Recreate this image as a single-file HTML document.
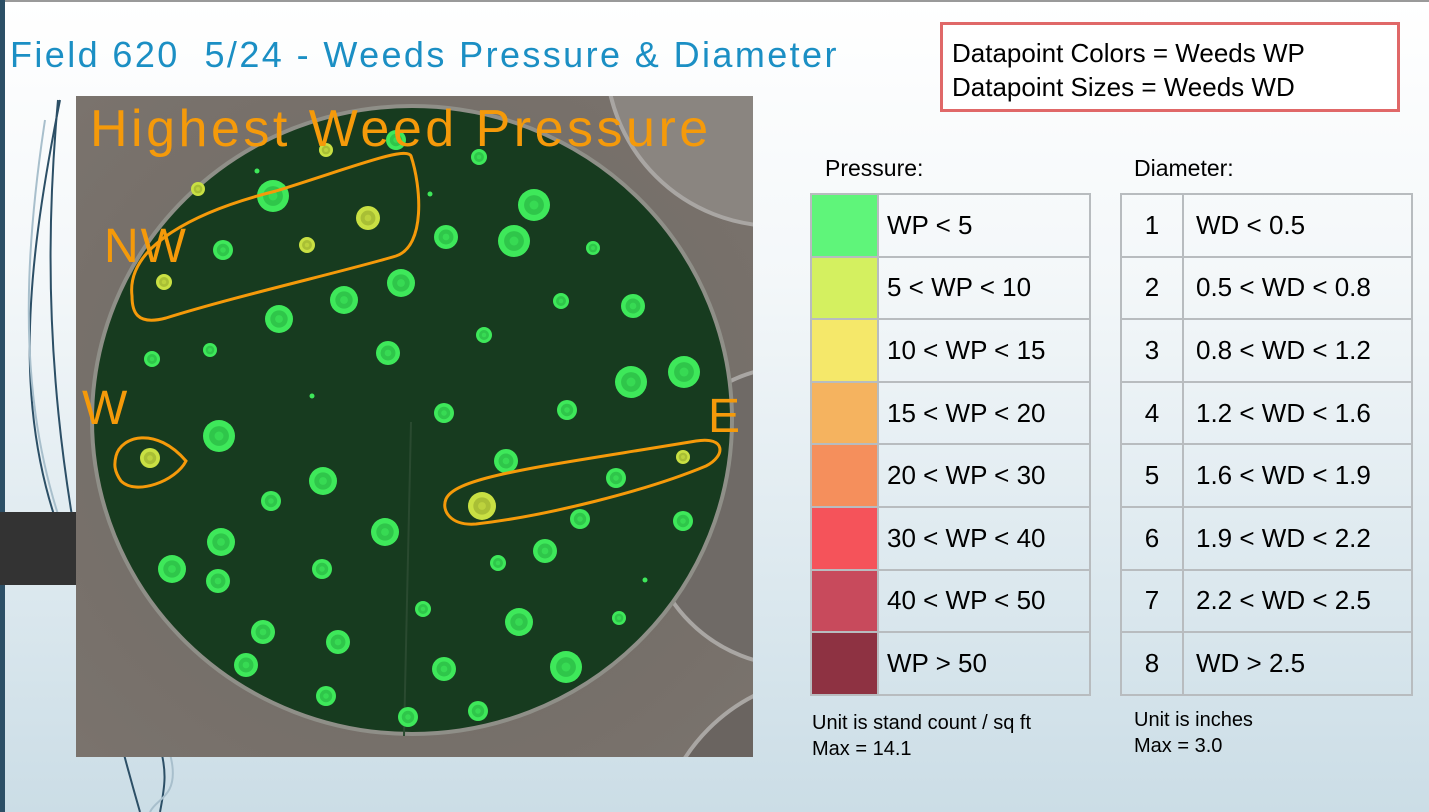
<!DOCTYPE html>
<html><head><meta charset="utf-8"><style>
html,body{margin:0;padding:0}
body{width:1429px;height:812px;overflow:hidden;position:relative;font-family:"Liberation Sans",sans-serif;background:linear-gradient(#ffffff 0%,#f3f7f9 35%,#dde9ef 70%,#cbdde6 100%)}
.abs{position:absolute}
table{border-collapse:collapse;position:absolute;table-layout:fixed}
td{border:2px solid #b8bcbf;font-size:26px;color:#000;padding:0;height:62.6px;box-sizing:border-box}
</style></head><body>
<div class="abs" style="left:0;top:0;width:1429px;height:2px;background:#9a9a9a"></div>
<div class="abs" style="left:0;top:0;width:5px;height:812px;background:#2c4f66"></div>
<svg class="abs" style="left:0;top:0" width="200" height="812">
<path d="M60 100 C 20 300, 10 450, 90 600 S 170 760, 160 812" stroke="#2c4f66" stroke-width="2" fill="none"/>
<path d="M45 120 C 10 350, 30 500, 120 650 S 160 790, 150 812" stroke="#a8bfcc" stroke-width="2" fill="none"/>
<path d="M58 100 C 40 300, 50 500, 140 812" stroke="#2c4f66" stroke-width="2" fill="none"/>
</svg>
<div class="abs" style="left:0;top:512px;width:80px;height:73px;background:#333"></div>
<div class="abs" style="left:10px;top:34px;font-size:36px;color:#1b8fc4;letter-spacing:2.4px;white-space:pre">Field 620  5/24 - Weeds Pressure &amp; Diameter</div>
<div class="abs" style="left:940px;top:22px;width:460px;height:90px;border:3px solid #e06868;box-sizing:border-box;background:#fff;font-size:26px;line-height:34px;padding:11px 0 0 9px">Datapoint Colors = Weeds WP<br>Datapoint Sizes = Weeds WD</div>

<svg class="abs" style="left:76px;top:96px" width="677" height="661" id="map">
<defs><radialGradient id="bg" cx="50%" cy="50%" r="70%"><stop offset="0" stop-color="#6e6862"/><stop offset="1" stop-color="#7a736d"/></radialGradient></defs>
<rect width="677" height="661" fill="url(#bg)"/>
<circle cx="700" cy="-40" r="170" fill="#8a8580" stroke="#a9a6a3" stroke-width="4"/>
<circle cx="720" cy="420" r="150" fill="#6f6a66" stroke="#a9a6a3" stroke-width="4"/>
<circle cx="760" cy="760" r="180" fill="#6a6460" stroke="#a9a6a3" stroke-width="4"/>
<ellipse cx="336" cy="324" rx="320" ry="314" fill="#173b1f" stroke="#8f8f88" stroke-width="4"/>
<line x1="335" y1="326" x2="328" y2="640" stroke="#2a4a30" stroke-width="2"/>
<g id="pts"></g>
<g fill="none" stroke="#f59a0a" stroke-width="3">
<path d="M56 200 C 50 150, 120 115, 200 95 C 280 70, 330 50, 335 60 C 345 90, 350 150, 320 160 C 270 175, 160 200, 90 222 C 60 230, 56 215, 56 200 Z"/>
<path d="M40 360 C 45 340, 80 330, 110 365 C 100 385, 60 400, 45 385 C 38 375, 38 368, 40 360 Z"/>
<path d="M370 403 C 380 380, 470 370, 620 345 C 650 340, 650 360, 630 370 C 570 395, 470 420, 400 428 C 375 430, 365 415, 370 403 Z"/>
</g>
<g fill="#f59a0a" font-family="Liberation Sans,sans-serif">
<text x="14" y="50" font-size="52" letter-spacing="3.5">Highest Weed Pressure</text>
<text x="28" y="166" font-size="48" letter-spacing="2">NW</text>
<text x="6" y="328" font-size="48">W</text>
<text x="632" y="336" font-size="48">E</text>
</g>
</svg>

<div class="abs" style="left:825px;top:155px;font-size:23px">Pressure:</div>
<table style="left:810px;top:193px;width:281px">
<tr><td style="width:67px;background:#5ff57a"></td><td style="padding-left:8px">WP &lt; 5</td></tr>
<tr><td style="background:#d4f060"></td><td style="padding-left:8px">5 &lt; WP &lt; 10</td></tr>
<tr><td style="background:#f5e86a"></td><td style="padding-left:8px">10 &lt; WP &lt; 15</td></tr>
<tr><td style="background:#f5b35f"></td><td style="padding-left:8px">15 &lt; WP &lt; 20</td></tr>
<tr><td style="background:#f58f5c"></td><td style="padding-left:8px">20 &lt; WP &lt; 30</td></tr>
<tr><td style="background:#f5535a"></td><td style="padding-left:8px">30 &lt; WP &lt; 40</td></tr>
<tr><td style="background:#c84a5c"></td><td style="padding-left:8px">40 &lt; WP &lt; 50</td></tr>
<tr><td style="background:#8e3242"></td><td style="padding-left:8px">WP &gt; 50</td></tr>
</table>
<div class="abs" style="left:812px;top:710px;font-size:20px;line-height:26px">Unit is stand count / sq ft<br>Max = 14.1</div>

<div class="abs" style="left:1134px;top:155px;font-size:23px">Diameter:</div>
<table style="left:1120px;top:193px;width:293px">
<tr><td style="width:62px;text-align:center">1</td><td style="padding-left:12px">WD &lt; 0.5</td></tr>
<tr><td style="text-align:center">2</td><td style="padding-left:12px">0.5 &lt; WD &lt; 0.8</td></tr>
<tr><td style="text-align:center">3</td><td style="padding-left:12px">0.8 &lt; WD &lt; 1.2</td></tr>
<tr><td style="text-align:center">4</td><td style="padding-left:12px">1.2 &lt; WD &lt; 1.6</td></tr>
<tr><td style="text-align:center">5</td><td style="padding-left:12px">1.6 &lt; WD &lt; 1.9</td></tr>
<tr><td style="text-align:center">6</td><td style="padding-left:12px">1.9 &lt; WD &lt; 2.2</td></tr>
<tr><td style="text-align:center">7</td><td style="padding-left:12px">2.2 &lt; WD &lt; 2.5</td></tr>
<tr><td style="text-align:center">8</td><td style="padding-left:12px">WD &gt; 2.5</td></tr>
</table>
<div class="abs" style="left:1134px;top:707px;font-size:20px;line-height:26px">Unit is inches<br>Max = 3.0</div>

<script>
// point locations in slide pixel coordinates (map-projected), diameter class 1-8, pressure class 1-2
const ptX = [396,326,479,198,273,257,430,368,534,223,307,446,514,593,164,401,344,279,561,633,484,152,210,388,631,684,312,444,567,219,150,683,506,323,616,271,482,580,683,385,221,545,172,322,498,218,645,423,519,619,263,338,246,444,566,326,408,478];
const ptY = [140,150,157,189,196,171,194,218,205,250,245,237,241,248,282,283,300,319,301,306,335,359,350,353,382,372,396,413,410,436,458,457,461,481,478,501,506,519,521,532,542,551,569,569,563,581,580,609,622,618,632,642,665,669,667,696,717,711];
const ptWD = [4,2,3,2,7,1,1,5,7,4,3,5,7,2,3,6,6,6,3,5,3,3,2,5,7,7,1,4,4,7,4,2,5,6,4,4,6,4,4,6,6,5,6,4,3,5,1,3,6,2,5,5,5,5,7,4,4,4];
const ptWP = [1,2,1,2,1,1,1,2,1,1,2,1,1,1,2,1,1,1,1,1,1,1,1,1,1,1,1,1,1,1,2,2,1,1,1,1,2,1,1,1,1,1,1,1,1,1,1,1,1,1,1,1,1,1,1,1,1,1];
const radiusFor = c => [0,2.5,7,8,10,12,14,16,18][c];
const outerCol = ["", "#3ee85a", "#c9e043"];
const innerCol = ["", "#2fc64a", "#a9bf35"];
const g = document.getElementById('pts');
const NS = "http://www.w3.org/2000/svg";
for (let i = 0; i < ptX.length; i++) {
  const r = radiusFor(ptWD[i]);
  const cx = ptX[i] - 76, cy = ptY[i] - 96;
  const o = document.createElementNS(NS, 'circle');
  o.setAttribute('cx', cx); o.setAttribute('cy', cy); o.setAttribute('r', r);
  o.setAttribute('fill', outerCol[ptWP[i]]);
  
  
  g.appendChild(o);
  if (r > 4) {
    const m = document.createElementNS(NS, 'circle');
    m.setAttribute('cx', cx); m.setAttribute('cy', cy); m.setAttribute('r', r * 0.62);
    m.setAttribute('fill', innerCol[ptWP[i]]);
    
    
    g.appendChild(m);
    const n = document.createElementNS(NS, 'circle');
    n.setAttribute('cx', cx); n.setAttribute('cy', cy); n.setAttribute('r', r * 0.28);
    n.setAttribute('fill', outerCol[ptWP[i]]); n.setAttribute('opacity', '0.6');
    
    
    g.appendChild(n);
  }
}
</script>
</body></html>
